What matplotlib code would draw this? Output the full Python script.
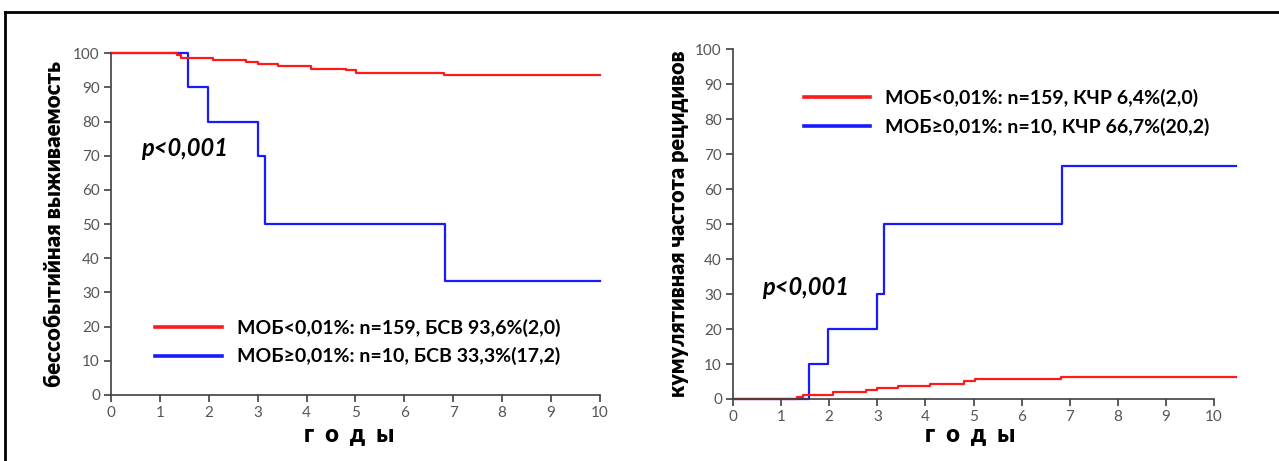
import matplotlib
matplotlib.use("Agg")
import matplotlib.pyplot as plt
from matplotlib.lines import Line2D

# ─── Data ────────────────────────────────────────────────────────────────────
# Left panel: event-free survival (%)
efs_low_years = [0, 1.34, 1.44, 2.08, 2.77, 3.0, 3.42, 4.1, 4.8, 5.02, 6.82, 10.0]
efs_low = [100, 99.4, 98.7, 98.0, 97.5, 96.9, 96.2, 95.5, 95.1, 94.3, 93.6, 93.6]
efs_high_years = [0, 1.58, 1.98, 3.0, 3.14, 6.84, 10.0]
efs_high = [100, 90, 80, 70, 50, 33.3, 33.3]

# Right panel: cumulative incidence of relapse (%)
cir_low_years = [0, 1.34, 1.45, 2.07, 2.76, 3.0, 3.42, 4.1, 4.8, 5.03, 6.82, 10.45]
cir_low = [0, 0.6, 1.2, 1.9, 2.5, 3.1, 3.8, 4.4, 5.1, 5.7, 6.4, 6.4]
cir_high_years = [0, 1.57, 1.98, 2.99, 3.13, 6.84, 10.45]
cir_high = [0, 10, 20, 30, 50, 66.7, 66.7]

LBL_EFS_LOW = "МОБ<0,01%: n=159, БСВ 93,6%(2,0)"
LBL_EFS_HIGH = "МОБ≥0,01%: n=10, БСВ 33,3%(17,2)"
LBL_CIR_LOW = "МОБ<0,01%: n=159, КЧР 6,4%(2,0)"
LBL_CIR_HIGH = "МОБ≥0,01%: n=10, КЧР 66,7%(20,2)"

RED = "#ff1a1a"
BLUE = "#1a1aff"
AXC = "#404040"
FONT = ["Lato", "DejaVu Sans"]

plt.rcParams["font.family"] = FONT

fig = plt.figure(figsize=(12.79, 4.61), dpi=100)
ax1 = fig.add_axes([0.0868, 0.1432, 0.3823, 0.7412])
ax2 = fig.add_axes([0.5731, 0.1345, 0.3949, 0.7586])


def style_axis(ax):
    for side in ("top", "right"):
        ax.spines[side].set_visible(False)
    for side in ("left", "bottom"):
        ax.spines[side].set_color(AXC)
        ax.spines[side].set_linewidth(1.2)
    ax.tick_params(direction="out", length=5, width=1.2, color=AXC,
                   labelcolor="#555555", labelsize=11, pad=3)
    ax.set_yticks(range(0, 101, 10))
    ax.set_xticks(range(0, 11))
    ax.set_ylim(0, 100)


def style_legend(leg):
    for t in leg.get_texts():
        t.set_fontweight("bold")
    for ln in leg.get_lines():
        ln.set_linewidth(2.6)


# ─── Left panel ──────────────────────────────────────────────────────────────
ax1.step(efs_high_years, efs_high, where="post", color=BLUE, lw=1.6,
         clip_on=False, label=LBL_EFS_HIGH)
ax1.step(efs_low_years, efs_low, where="post", color=RED, lw=1.6,
         clip_on=False, label=LBL_EFS_LOW)
style_axis(ax1)
ax1.set_xlim(0, 10)
ax1.set_ylabel("бессобытийная выживаемость", fontsize=16, fontweight="heavy")
ax1.yaxis.set_label_coords(-0.094, 0.5)
ax1.set_xlabel("г  о  д  ы", fontsize=17, fontweight="heavy", va="center")
ax1.xaxis.set_label_coords(0.487, -0.117)
ax1.text(0.062, 0.72, "p<0,001", transform=ax1.transAxes, fontsize=17,
         fontweight="bold", fontstyle="italic", va="center")
h, l = ax1.get_legend_handles_labels()
leg1 = ax1.legend([h[1], h[0]], [l[1], l[0]], loc="center left",
                  bbox_to_anchor=(0.055, 0.155), frameon=False, fontsize=14,
                  handlelength=3.4, handletextpad=0.8, labelspacing=0.55)
style_legend(leg1)

# ─── Right panel ─────────────────────────────────────────────────────────────
ax2.step(cir_high_years, cir_high, where="post", color=BLUE, lw=1.6,
         clip_on=False, label=LBL_CIR_HIGH)
ax2.step(cir_low_years, cir_low, where="post", color=RED, lw=1.6,
         clip_on=False, label=LBL_CIR_LOW)
style_axis(ax2)
ax2.set_xlim(0, 10.5)
ax2.spines["bottom"].set_bounds(0, 10)
ax2.set_ylabel("кумулятивная частота рецидивов", fontsize=15.6,
               fontweight="heavy")
ax2.yaxis.set_label_coords(-0.087, 0.5)
ax2.set_xlabel("г  о  д  ы", fontsize=17, fontweight="heavy", va="center")
ax2.xaxis.set_label_coords(0.469, -0.103)
ax2.text(0.058, 0.32, "p<0,001", transform=ax2.transAxes, fontsize=17,
         fontweight="bold", fontstyle="italic", va="center")
h, l = ax2.get_legend_handles_labels()
leg2 = ax2.legend([h[1], h[0]], [l[1], l[0]], loc="center left",
                  bbox_to_anchor=(0.105, 0.82), frameon=False, fontsize=14,
                  handlelength=3.4, handletextpad=0.8, labelspacing=0.55)
style_legend(leg2)

# ─── Outer frame (top and left edges) ────────────────────────────────────────
fx = 5.5 / 1279
fy = 1 - 12.5 / 461
fig.add_artist(Line2D([fx, 1], [fy, fy], color="black", lw=2,
                      transform=fig.transFigure))
fig.add_artist(Line2D([fx, fx], [0, fy], color="black", lw=2,
                      transform=fig.transFigure))

fig.savefig("out.png", dpi=100)
